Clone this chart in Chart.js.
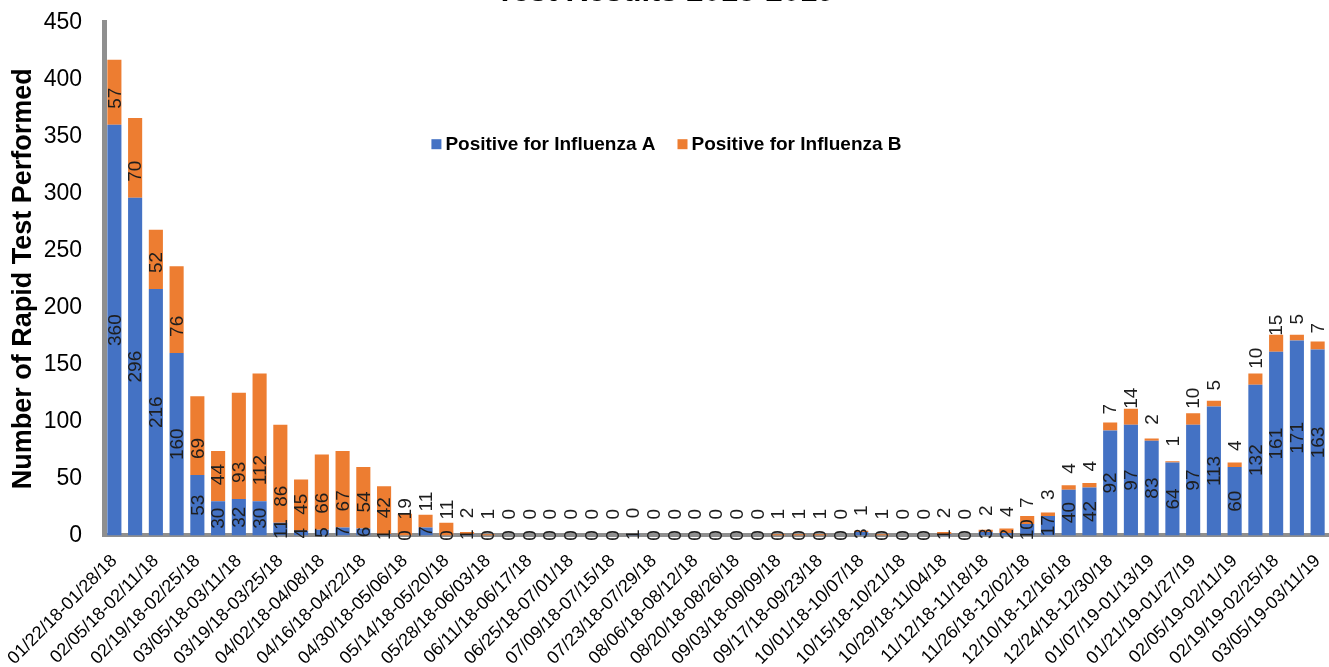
<!DOCTYPE html>
<html>
<head>
<meta charset="utf-8">
<title>Rapid Influenza Test Results 2018-2019</title>
<script src="https://cdn.jsdelivr.net/npm/chart.js@4.4.1/dist/chart.umd.min.js"></script>
<style>
  html, body { margin: 0; padding: 0; background: #ffffff; }
  #frame { position: relative; width: 1329px; height: 667px; overflow: hidden; background: #ffffff; }
  #holder { position: absolute; left: 0; top: -26px; width: 1329px; height: 693px; }
</style>
</head>
<body>
<div id="frame">
  <div id="holder"><canvas id="flu"></canvas></div>
</div>
<script>
// Reporting weeks (Monday to Sunday)
const weeks = [
  '01/22/18-01/28/18', '01/29/18-02/04/18', '02/05/18-02/11/18', '02/12/18-02/18/18',
  '02/19/18-02/25/18', '02/26/18-03/04/18', '03/05/18-03/11/18', '03/12/18-03/18/18',
  '03/19/18-03/25/18', '03/26/18-04/01/18', '04/02/18-04/08/18', '04/09/18-04/15/18',
  '04/16/18-04/22/18', '04/23/18-04/29/18', '04/30/18-05/06/18', '05/07/18-05/13/18',
  '05/14/18-05/20/18', '05/21/18-05/27/18', '05/28/18-06/03/18', '06/04/18-06/10/18',
  '06/11/18-06/17/18', '06/18/18-06/24/18', '06/25/18-07/01/18', '07/02/18-07/08/18',
  '07/09/18-07/15/18', '07/16/18-07/22/18', '07/23/18-07/29/18', '07/30/18-08/05/18',
  '08/06/18-08/12/18', '08/13/18-08/19/18', '08/20/18-08/26/18', '08/27/18-09/02/18',
  '09/03/18-09/09/18', '09/10/18-09/16/18', '09/17/18-09/23/18', '09/24/18-09/30/18',
  '10/01/18-10/07/18', '10/08/18-10/14/18', '10/15/18-10/21/18', '10/22/18-10/28/18',
  '10/29/18-11/04/18', '11/05/18-11/11/18', '11/12/18-11/18/18', '11/19/18-11/25/18',
  '11/26/18-12/02/18', '12/03/18-12/09/18', '12/10/18-12/16/18', '12/17/18-12/23/18',
  '12/24/18-12/30/18', '12/31/18-01/06/19', '01/07/19-01/13/19', '01/14/19-01/20/19',
  '01/21/19-01/27/19', '01/28/19-02/03/19', '02/05/19-02/11/19', '02/12/19-02/18/19',
  '02/19/19-02/25/18', '02/26/19-03/04/19', '03/05/19-03/11/19'
];

// Positive rapid tests per week
const influenzaA = [
  360, 296, 216, 160, 53, 30, 32, 30, 11, 4,
  5, 7, 6, 1, 0, 7, 0, 1, 0, 0,
  0, 0, 0, 0, 0, 1, 0, 0, 0, 0,
  0, 0, 0, 0, 0, 0, 3, 0, 0, 0,
  1, 0, 3, 2, 10, 17, 40, 42, 92, 97,
  83, 64, 97, 113, 60, 132, 161, 171, 163
];
const influenzaB = [
  57, 70, 52, 76, 69, 44, 93, 112, 86, 45,
  66, 67, 54, 42, 19, 11, 11, 2, 1, 0,
  0, 0, 0, 0, 0, 0, 0, 0, 0, 0,
  0, 0, 1, 1, 1, 0, 1, 1, 0, 0,
  2, 0, 2, 4, 7, 3, 4, 4, 7, 14,
  2, 1, 10, 5, 4, 10, 15, 5, 7
];

// Y axis range and step
const yTicks = { min: 0, max: 450, step: 50 };

const seriesNames = ['Positive for Influenza A', 'Positive for Influenza B'];
const seriesColors = ['#4472C4', '#ED7D31'];

const FONT = "'Liberation Sans', Arial, Helvetica, sans-serif";

// Value labels: A centred in its segment, B sitting just above its segment base
const valueLabels = {
  id: 'valueLabels',
  afterDatasetsDraw(chart) {
    const ctx = chart.ctx;
    ctx.save();
    ctx.font = '19px ' + FONT;
    ctx.fillStyle = '#1e1e1e';
    ctx.textBaseline = 'middle';
    chart.data.datasets.forEach((ds, di) => {
      const meta = chart.getDatasetMeta(di);
      meta.data.forEach((bar, i) => {
        const v = ds.data[i];
        const p = bar.getProps(['x', 'y', 'base'], true);
        ctx.save();
        if (di === 0) {
          ctx.translate(p.x, (p.y + p.base) / 2);
          ctx.rotate(-Math.PI / 2);
          ctx.textAlign = 'center';
        } else {
          ctx.translate(p.x, p.base - 16);
          ctx.rotate(-Math.PI / 2);
          ctx.textAlign = 'left';
        }
        ctx.fillText(String(v), 0, 1);
        ctx.restore();
      });
    });
    ctx.restore();
  }
};

// Legend placed inside the plot, under the top edge
const innerLegend = {
  id: 'innerLegend',
  afterDraw(chart) {
    const ctx = chart.ctx;
    const box = 10, gap = 4, spacing = 22;
    const y = chart.chartArea.top + 122;
    ctx.save();
    ctx.font = 'bold 19px ' + FONT;
    ctx.textBaseline = 'middle';
    ctx.textAlign = 'left';
    const items = chart.data.datasets.map(ds => ({
      text: ds.label, color: ds.backgroundColor, w: ctx.measureText(ds.label).width
    }));
    let total = 0;
    items.forEach((it, k) => { total += box + gap + it.w + (k ? spacing : 0); });
    let x = chart.width / 2 + 2 - total / 2;
    items.forEach(it => {
      ctx.fillStyle = it.color;
      ctx.fillRect(x, y - box / 2, box, box);
      ctx.fillStyle = '#000000';
      ctx.fillText(it.text, x + box + gap, y + 1);
      x += box + gap + it.w + spacing;
    });
    ctx.restore();
  }
};

new Chart(document.getElementById('flu'), {
  type: 'bar',
  data: {
    labels: weeks,
    datasets: [
      { label: seriesNames[0], data: influenzaA, backgroundColor: seriesColors[0],
        categoryPercentage: 1, barPercentage: 0.68 },
      { label: seriesNames[1], data: influenzaB, backgroundColor: seriesColors[1],
        categoryPercentage: 1, barPercentage: 0.68 }
    ]
  },
  options: {
    responsive: true,
    maintainAspectRatio: false,
    devicePixelRatio: 1,
    animation: false,
    layout: { padding: { top: 0, right: 1, bottom: 0, left: 2 } },
    plugins: {
      legend: { display: false },
      tooltip: { enabled: false },
      title: {
        display: true,
        text: 'Test Results 2018-2019',
        color: '#000000',
        font: { family: FONT, size: 31, weight: 'bold' },
        padding: { top: 0, bottom: 11 }
      }
    },
    scales: {
      x: {
        stacked: true,
        grid: { display: false },
        border: { display: true, color: '#8f8f8f', width: 4 },
        ticks: {
          autoSkip: false,
          maxRotation: 45,
          minRotation: 45,
          padding: 7,
          color: '#000000',
          font: { family: FONT, size: 18 },
          callback(value, index) { return index % 2 === 0 ? this.getLabelForValue(value) : ''; }
        },
        // let the slanted week labels run past the plot edges
        afterFit(scale) {
          scale.paddingLeft = 0;
          scale.paddingRight = 0;
          scale.height -= 9;
        }
      },
      y: {
        stacked: true,
        min: yTicks.min,
        max: yTicks.max,
        grid: { display: false, drawTicks: false },
        border: { display: true, color: '#8f8f8f', width: 5 },
        ticks: {
          stepSize: yTicks.step,
          padding: 22,
          color: '#000000',
          font: { family: FONT, size: 23 }
        },
        title: {
          display: true,
          text: 'Number of Rapid Test Performed',
          color: '#000000',
          font: { family: FONT, size: 27, weight: 'bold' },
          padding: { top: 5, bottom: 4 }
        },
        // axis band: title, tick labels and a single label gap
        afterFit(scale) {
          scale.width = 102;
        }
      }
    }
  },
  plugins: [valueLabels, innerLegend]
});
</script>
</body>
</html>
